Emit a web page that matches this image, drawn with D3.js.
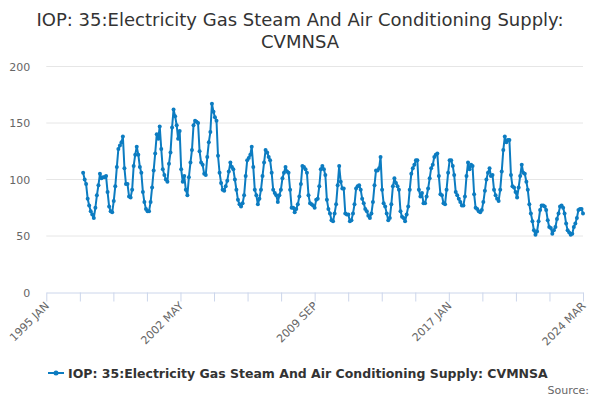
<!DOCTYPE html>
<html>
<head>
<meta charset="utf-8">
<script src="https://cdn.jsdelivr.net/npm/d3@7"></script>
<style>
html,body{margin:0;padding:0;background:#fff;}
svg{display:block;font-family:"DejaVu Sans",sans-serif;}
</style>
</head>
<body>
<svg id="chart" width="600" height="400"></svg>
<script>
const titleLines = ["IOP: 35:Electricity Gas Steam And Air Conditioning Supply:", "CVMNSA"];
const seriesName = "IOP: 35:Electricity Gas Steam And Air Conditioning Supply: CVMNSA";
const startYear = 1997;
const values1997_2002 = [
  106,100,96,83,77,72,69,66,75,86,95,105,
  101,102,102,103,89,76,72,71,81,94,111,127,
  130,133,138,110,96,96,85,84,91,112,122,129,
  122,111,106,89,80,74,72,72,80,93,108,123,
  140,136,147,127,109,104,100,98,114,124,146,162,
  156,148,136,143,109,98,103,91,86,102,115,126
];
const values2003_2008 = [
  148,152,151,150,125,115,113,105,104,120,133,142,
  167,160,155,152,121,106,97,91,90,94,99,107,
  115,111,109,100,91,82,78,76,79,86,103,117,
  119,122,129,111,91,86,78,83,91,103,115,126,
  124,120,117,106,91,88,86,80,86,91,101,106,
  111,107,106,91,75,75,71,74,78,85,96,112
];
const values2009_2014 = [
  111,109,106,86,79,78,77,75,82,83,94,109,
  112,109,104,82,74,70,64,63,70,78,95,112,
  98,92,92,70,69,69,63,64,70,78,92,94,
  95,91,83,79,74,72,68,66,70,80,95,108,
  108,110,120,91,79,76,70,64,66,78,94,101,
  97,94,91,72,67,66,63,69,76,91,105,110
];
const values2015_2020 = [
  113,117,117,91,85,88,79,79,85,92,101,110,
  113,120,122,123,103,87,86,79,78,91,106,117,
  117,112,104,89,86,83,80,77,77,85,103,115,
  109,113,112,87,75,74,72,71,73,80,90,100,
  106,110,103,104,91,86,83,81,91,107,126,138,
  133,135,135,104,94,93,89,84,93,103,113,106
];
const values2021_2024 = [
  105,98,91,78,70,63,55,51,54,63,73,77,
  77,76,73,64,58,57,52,55,58,65,70,76,
  77,75,70,61,55,53,51,52,58,61,66,73,
  74,74,70
];
const yTicks = [0, 50, 100, 150, 200];
const xTickLabels = ["1995 JAN", "2002 MAY", "2009 SEP", "2017 JAN", "2024 MAR"];
const xDomain = [Date.UTC(1995,0,1), Date.UTC(2024,2,1)];

const values = [].concat(values1997_2002, values2003_2008, values2009_2014, values2015_2020, values2021_2024);
const data = values.map((v,i) => ({date: new Date(Date.UTC(startYear + Math.floor(i/12), i%12, 1)), value: v}));

const svg = d3.select("#chart");
const pLeft = 46.3, pRight = 583, pTop = 66.5, pBottom = 292.5;

const x = d3.scaleUtc().domain(xDomain).range([pLeft, pRight]);
const y = d3.scaleLinear().domain([0, 200]).range([pBottom, pTop]);

// title
svg.append("text").attr("x", 300).attr("y", 26).attr("text-anchor","middle")
  .attr("font-size", "18px").attr("fill", "#333333")
  .selectAll("tspan").data(titleLines).join("tspan")
  .attr("x", 300).attr("dy", (d,i)=> i===0 ? 0 : 22).text(d=>d);

// grid
svg.append("g").selectAll("line").data(yTicks.filter(d=>d>0)).join("line")
  .attr("x1", pLeft).attr("x2", pRight).attr("y1", d=>y(d)).attr("y2", d=>y(d))
  .attr("stroke", "#e6e6e6").attr("stroke-width", 1);

// y axis labels
const yAxis = d3.axisLeft(y).tickValues(yTicks).tickSize(0).tickPadding(0);
const gy = svg.append("g").attr("transform", `translate(${pLeft-16},0)`).call(yAxis);
gy.select(".domain").remove();
gy.selectAll("text").attr("font-size","11px").attr("fill","#666666").attr("font-family","DejaVu Sans, sans-serif").attr("dy","0.32em");

// x axis
const nTicks = 16;
const tickVals = d3.range(nTicks+1).map(i => new Date(xDomain[0] + i*(xDomain[1]-xDomain[0])/nTicks));
const xAxis = d3.axisBottom(x).tickValues(tickVals).tickSize(9).tickSizeOuter(0)
  .tickFormat((d,i) => i % 4 === 0 ? xTickLabels[i/4] : "");
const gx = svg.append("g").attr("transform", `translate(0,${pBottom})`).call(xAxis);
gx.select(".domain").attr("stroke", "#ccd6eb");
gx.selectAll(".tick line").attr("stroke", "#ccd6eb");
gx.selectAll("text").attr("font-size","11px").attr("fill","#666666").attr("font-family","DejaVu Sans, sans-serif")
  .attr("text-anchor","end").attr("dy", "0").attr("y", 0)
  .attr("transform", "translate(3,14) rotate(-45)");

// line
const color = "#0c7cc1";
const line = d3.line().x(d=>x(d.date)).y(d=>y(d.value));
svg.append("path").datum(data).attr("d", line).attr("fill","none")
  .attr("stroke", color).attr("stroke-width", 2).attr("stroke-linejoin","round");
svg.append("g").selectAll("circle").data(data).join("circle")
  .attr("cx", d=>x(d.date)).attr("cy", d=>y(d.value)).attr("r", 2).attr("fill", color);

// legend
const lg = svg.append("g").attr("transform","translate(0,373)");
lg.append("line").attr("x1",48).attr("x2",64).attr("y1",0).attr("y2",0).attr("stroke",color).attr("stroke-width",2);
lg.append("circle").attr("cx",56).attr("cy",0).attr("r",2.5).attr("fill",color);
lg.append("text").attr("x",68).attr("y",4.5).attr("font-size","12.5px").attr("font-weight","bold").attr("fill","#333333").text(seriesName);

// source
svg.append("text").attr("x",589).attr("y",394).attr("text-anchor","end").attr("font-size","11px").attr("fill","#666666").text("Source:");
</script>
</body>
</html>
